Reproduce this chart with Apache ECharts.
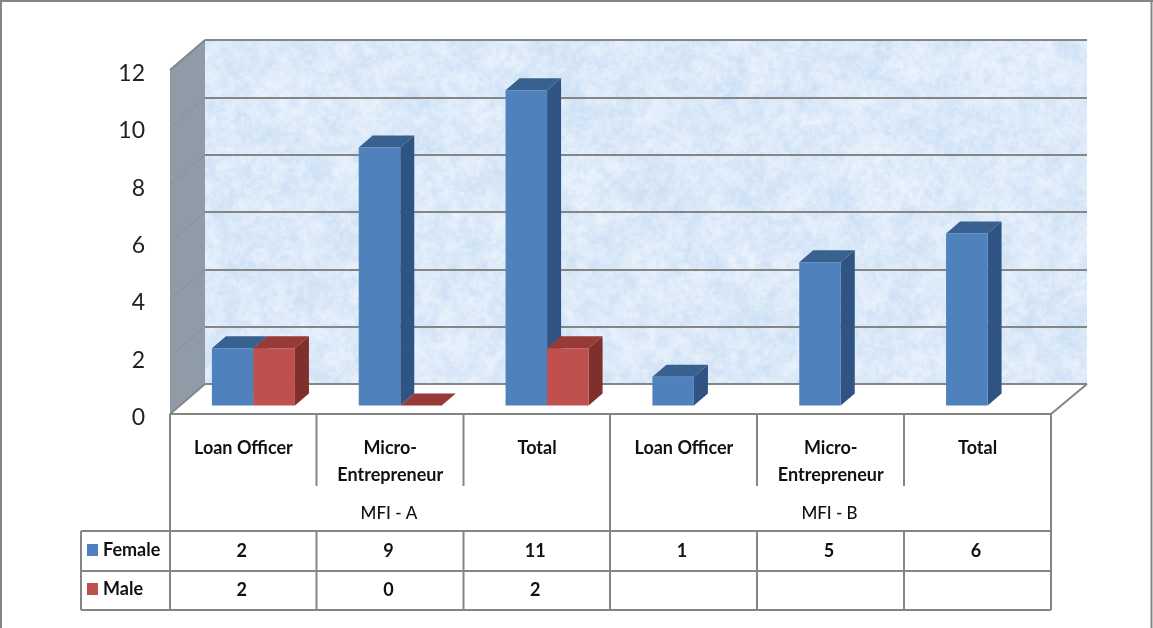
<!DOCTYPE html>
<html>
<head>
<meta charset="utf-8">
<style>html,body{margin:0;padding:0;background:#fff}#chart{width:1153px;height:628px}</style>
<script src="https://cdn.jsdelivr.net/npm/echarts@6/dist/echarts.min.js"></script>
</head>
<body>
<div id="chart"></div>
<script>
// Staff counts by role at two microfinance institutions
const roles = ['Loan Officer', 'Micro-\nEntrepreneur', 'Total', 'Loan Officer', 'Micro-\nEntrepreneur', 'Total'];
const groups = ['MFI - A', 'MFI - B'];
const female = [2, 9, 11, 1, 5, 6];
const male = [2, 0, 2, null, null, null];
const valueTicks = [0, 2, 4, 6, 8, 10, 12];

const FONT = 'Lato';
const LINE = '#858585';
const WALL_DX = -35, WALL_DY = 30;   // back wall to front plane
const BAR_DX = 14, BAR_DY = -12;     // depth of each column
const BAR_SHARE = 0.2827;            // column width as a share of the category band

// Mottled pale-blue fill for the back wall, layered from scaled-up noise.
// The pattern is anchored to the page origin.
function wallTexture() {
  const W = 1153, H = 628;
  const c = document.createElement('canvas');
  c.width = W; c.height = H;
  const g = c.getContext('2d');
  g.fillStyle = '#dbe9f9';
  g.fillRect(0, 0, W, H);
  let s = 20240611;
  const next = () => {
    s = (s + 0x6D2B79F5) | 0;
    let t = Math.imul(s ^ (s >>> 15), 1 | s);
    t = (t + Math.imul(t ^ (t >>> 7), 61 | t)) ^ t;
    return ((t ^ (t >>> 14)) >>> 0) / 4294967296;
  };
  g.imageSmoothingEnabled = true;
  g.imageSmoothingQuality = 'high';
  [[22, 0.55], [9, 0.5], [4, 0.4], [2, 0.25]].forEach(([cell, alpha]) => {
    const n = document.createElement('canvas');
    n.width = Math.ceil(W / cell) + 1; n.height = Math.ceil(H / cell) + 1;
    const nx = n.getContext('2d');
    const img = nx.createImageData(n.width, n.height);
    for (let i = 0; i < img.data.length; i += 4) {
      const k = next();
      img.data[i] = k < 0.5 ? 198 : 243;
      img.data[i + 1] = k < 0.5 ? 220 : 248;
      img.data[i + 2] = k < 0.5 ? 243 : 254;
      img.data[i + 3] = Math.abs(k - 0.5) * 2 * 255;
    }
    nx.putImageData(img, 0, 0);
    g.globalAlpha = alpha;
    g.drawImage(n, 0, 0, n.width * cell, n.height * cell);
  });
  g.globalAlpha = 1;
  return c;
}

// One 3D column: front face, top face and right side
function column(shift, front, top, side) {
  return function (params, api) {
    const v = api.value(1);
    const band = api.size([1, 0])[0];
    const w = band * BAR_SHARE;
    const p = api.coord([api.value(0), v]);
    const base = api.coord([api.value(0), 0])[1];
    const x0 = p[0] + shift * w, x1 = x0 + w, y = p[1];
    const poly = (points, fill) => ({ type: 'polygon', shape: { points }, style: { fill }, silent: true });
    return {
      type: 'group',
      children: [
        poly([[x1, y], [x1 + BAR_DX, y + BAR_DY], [x1 + BAR_DX, base + BAR_DY], [x1, base]], side),
        poly([[x0, y], [x0 + BAR_DX, y + BAR_DY], [x1 + BAR_DX, y + BAR_DY], [x1, y]], top),
        { type: 'rect', shape: { x: x0, y, width: w, height: base - y }, style: { fill: front }, silent: true }
      ]
    };
  };
}

// Left wall panels, floor edges and their rulings, projected from the back wall axis
function sideWall(params, api) {
  const v = api.value(0);
  const p = api.coord([0, v]);
  const x = params.coordSys.x;
  const children = [{
    type: 'line',
    shape: { x1: x, y1: p[1], x2: x + WALL_DX, y2: p[1] + WALL_DY },
    style: { stroke: v === 0 || v === 12 ? LINE : '#7f8c97', lineWidth: v === 0 || v === 12 ? 2 : 1 }
  }];
  if (v < 12) {
    const q = api.coord([0, v + 2]);
    children.unshift({
      type: 'polygon',
      shape: { points: [[x, q[1]], [x, p[1]], [x + WALL_DX, p[1] + WALL_DY], [x + WALL_DX, q[1] + WALL_DY]] },
      style: { fill: '#8f9ca8' }
    });
  }
  return { type: 'group', silent: true, children };
}

function tableGraphics() {
  const xs = [170, 316.5, 463.5, 610, 757, 904, 1051];
  const seg = (x1, y1, x2, y2) => ({
    type: 'line', silent: true, shape: { x1, y1, x2, y2 },
    style: { stroke: LINE, lineWidth: 2 }
  });
  const label = (text, x, y, font) => ({
    type: 'text', silent: true, x, y,
    style: { text, x: 0, y: 0, align: 'center', verticalAlign: 'middle', fill: '#111', font: `${font} ${FONT}` }
  });
  const out = [
    // page border
    seg(1, 0, 1, 628), seg(0, 1, 1153, 1), seg(1151.5, 0, 1151.5, 628),
    // table rules
    seg(170, 414, 1051, 414), seg(81, 531, 1051, 531), seg(81, 571, 1051, 571), seg(81, 610, 1051, 610),
    seg(81, 531, 81, 610), seg(170, 414, 170, 610), seg(1051, 414, 1051, 610), seg(610, 414, 610, 610),
    seg(1051, 414, 1087, 384)
  ];
  [1, 2, 4, 5].forEach(i => {
    out.push(seg(xs[i], 414, xs[i], 486), seg(xs[i], 531, xs[i], 610));
  });
  groups.forEach((g, i) => out.push(label(g, (xs[i * 3] + xs[i * 3 + 3]) / 2 - 1, 514, '500 17px')));
  female.forEach((v, i) => {
    const cx = (xs[i] + xs[i + 1]) / 2 - 1.5;
    out.push(label(String(v), cx, 551, '700 18px'));
    if (male[i] !== null) out.push(label(String(male[i]), cx, 590, '700 18px'));
  });
  return out;
}

const hiddenCat = gridIndex => ({ type: 'category', gridIndex, data: roles, show: false });
const hiddenVal = gridIndex => ({ type: 'value', gridIndex, min: 0, max: 12, interval: 2, show: false });

const chart = echarts.init(document.getElementById('chart'), null, { renderer: 'canvas' });
chart.setOption({
  animation: false,
  backgroundColor: '#fff',
  grid: [
    { left: 205, top: 40, width: 882, height: 344, show: true, borderWidth: 0,
      backgroundColor: { image: wallTexture(), repeat: 'repeat' } },
    { left: 170, top: 73.5, width: 881, height: 344 },
    { left: 180, top: 61.5, width: 881, height: 344 }
  ],
  xAxis: [
    hiddenCat(0),
    {
      type: 'category', gridIndex: 1, data: roles,
      axisLine: { show: false }, axisTick: { show: false },
      axisLabel: { interval: 0, margin: 17.5, color: '#111', fontFamily: FONT, fontSize: 18, fontWeight: 700, lineHeight: 27 }
    },
    hiddenCat(2)
  ],
  yAxis: [
    {
      type: 'value', gridIndex: 0, min: 0, max: 12, interval: 2,
      axisLabel: { show: false }, axisLine: { show: false }, axisTick: { show: false },
      splitLine: { show: true, lineStyle: { color: LINE, width: 2 } }
    },
    {
      type: 'value', gridIndex: 1, min: 0, max: 12, interval: 2,
      axisLine: { show: false }, axisTick: { show: false }, splitLine: { show: false },
      axisLabel: { margin: 25, color: '#222', fontFamily: FONT, fontSize: 23 }
    },
    hiddenVal(2)
  ],
  legend: {
    left: 87, top: 541, orient: 'vertical', padding: 0, itemWidth: 11, itemHeight: 12, itemGap: 21,
    icon: 'rect', selectedMode: false,
    textStyle: { fontFamily: FONT, fontSize: 18, fontWeight: 700, color: '#111' },
    data: ['Female', 'Male']
  },
  graphic: tableGraphics(),
  series: [
    {
      type: 'custom', name: 'wall', xAxisIndex: 0, yAxisIndex: 0, silent: true, z: 1, clip: false,
      data: valueTicks.map(v => [v]), encode: { y: 0 }, renderItem: sideWall
    },
    {
      type: 'custom', name: 'Female', xAxisIndex: 2, yAxisIndex: 2, z: 3, clip: false,
      itemStyle: { color: '#4f81bd' },
      data: female.map((v, i) => [i, v]), encode: { x: 0, y: 1 },
      renderItem: column(-1, '#4f81bd', '#38618f', '#2f5382')
    },
    {
      type: 'custom', name: 'Male', xAxisIndex: 2, yAxisIndex: 2, z: 4, clip: false,
      itemStyle: { color: '#c0504d' },
      data: male.map((v, i) => [i, v]).filter(d => d[1] !== null), encode: { x: 0, y: 1 },
      renderItem: column(0, '#c0504d', '#983a35', '#7f302c')
    }
  ]
});
</script>
</body>
</html>
